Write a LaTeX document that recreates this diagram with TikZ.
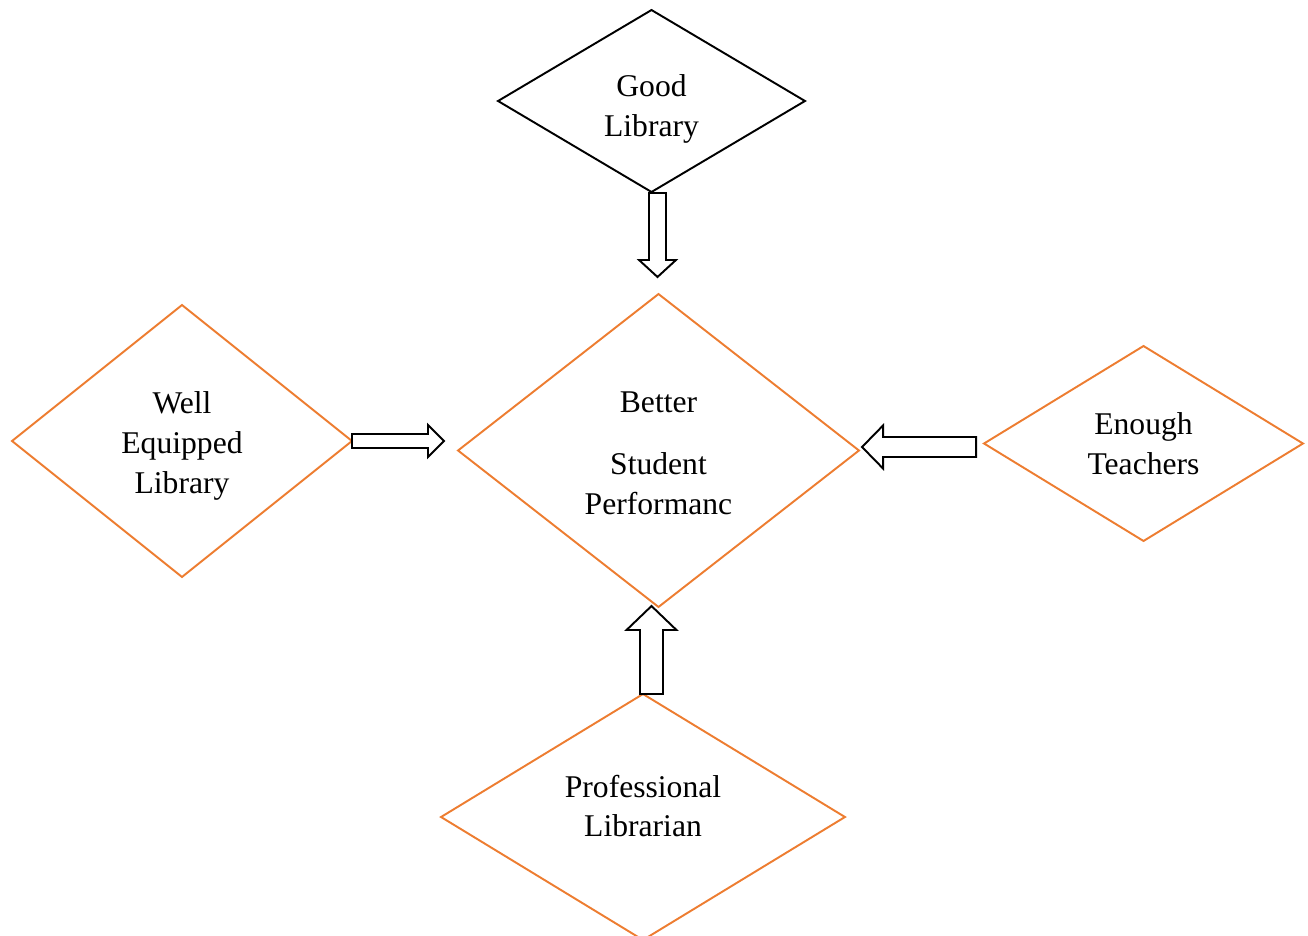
\documentclass[tikz,border=0pt]{standalone}
\usepackage{fontspec}
\setmainfont{Liberation Serif}
\usetikzlibrary{shapes.geometric,calc}
\definecolor{wordorange}{RGB}{237,125,49}

\begin{document}
\begin{tikzpicture}[x=0.02cm,y=-0.02cm,
		box/.style={diamond,draw=wordorange,line width=1.1pt,inner sep=0pt,outer sep=0pt},
		txt/.style={align=center,font=\fontsize{18}{22.7}\selectfont},
		fat/.style={draw=black,line width=1.1pt,fill=white,line join=miter}]
			\def\fatarrow#1#2#3#4#5#6{
				\draw[fat,shift={(#1)},rotate=#2] (0,-#4) -- ({#3-#6},-#4) -- ({#3-#6},-#5) -- (#3,0) -- ({#3-#6},#5) -- ({#3-#6},#4) -- (0,#4) -- cycle;
			}
			\useasboundingbox (0,0) rectangle (1308,936);
			\node[box,draw=black,minimum width=6.14cm,minimum height=3.64cm,label={[txt,yshift=-0.16cm]center:Good\\Library}] (good) at (651.5,101) {};
			\node[box,minimum width=8.02cm,minimum height=6.26cm,label={[txt,yshift=-0.06cm]center:Better\\[0.44cm]Student\\Performanc}] (perf) at (658.5,450.5) {};
			\node[box,minimum width=6.8cm,minimum height=5.44cm,label={[txt,yshift=-0.1cm]center:Well\\Equipped\\Library}] (equip) at (182,441) {};
			\node[box,minimum width=6.38cm,minimum height=3.9cm,label={[txt]center:Enough\\Teachers}] (teach) at (1143.5,443.5) {};
			\node[box,minimum width=8.08cm,minimum height=4.92cm,label={[txt,yshift=0.22cm]center:Professional\\Librarian}] (prof) at (643,817) {};
			\fatarrow{$(good.south)+(6,1)$}{-90}{84}{8.5}{18.5}{17}
			\fatarrow{equip.east}{0}{92}{7}{16}{16}
			\fatarrow{$(teach.west)+(-8,3.5)$}{180}{114}{10}{21.5}{21}
			\fatarrow{$(prof.north)+(8.5,0)$}{90}{88}{11.5}{25}{24}
		\end{tikzpicture}
\end{document}
